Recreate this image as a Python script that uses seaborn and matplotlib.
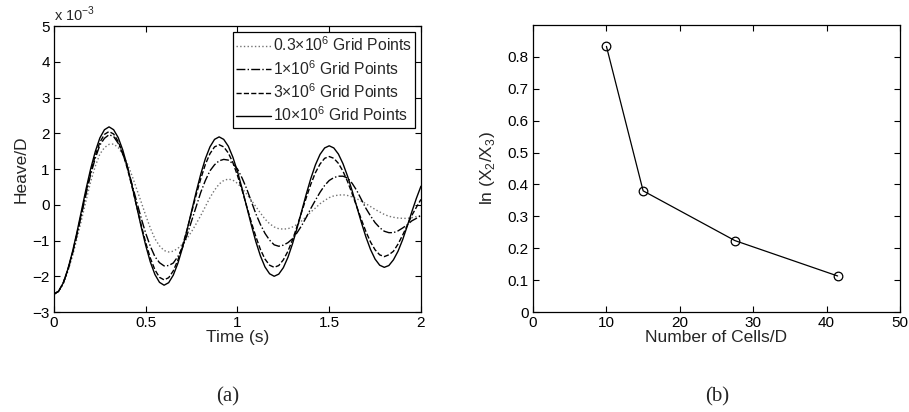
import matplotlib
matplotlib.use("Agg")
import matplotlib.pyplot as plt
import numpy as np
import seaborn as sns

# heave history, values in units of 1e-3 (every 0.025 s)
time_s = [round(0.025 * i, 3) for i in range(81)]
heave_03m = [-2.5, -2.42, -2.22, -1.87, -1.45, -0.95, -0.42, 0.12, 0.65, 1.08, 1.42, 1.60, 1.69,
             1.70, 1.6, 1.41, 1.15, 0.82, 0.45, 0.08, -0.3, -0.65, -0.95, -1.15, -1.28,
             -1.32, -1.3, -1.22, -1.1, -0.94, -0.75, -0.53, -0.3, -0.05, 0.2, 0.41, 0.58,
             0.68, 0.72, 0.69, 0.6, 0.46, 0.3, 0.13, -0.05, -0.23, -0.4, -0.53, -0.62,
             -0.67, -0.68, -0.67, -0.62, -0.55, -0.45, -0.33, -0.2, -0.09, 0.03, 0.12, 0.2,
             0.25, 0.27, 0.28, 0.26, 0.22, 0.17, 0.10, 0.03, -0.05, -0.13, -0.20, -0.27,
             -0.32, -0.35, -0.37, -0.38, -0.38, -0.36, -0.33, -0.3]
heave_1m = [-2.5, -2.42, -2.2, -1.84, -1.38, -0.85, -0.27, 0.31, 0.85, 1.30, 1.67, 1.86, 1.96,
            1.91, 1.72, 1.42, 1.05, 0.58, 0.1, -0.37, -0.8, -1.16, -1.45, -1.62, -1.71,
            -1.70, -1.63, -1.45, -1.2, -0.85, -0.45, -0.05, 0.35, 0.68, 0.95, 1.12, 1.23,
            1.27, 1.25, 1.15, 1.0, 0.75, 0.45, 0.10, -0.25, -0.55, -0.8, -0.99, -1.12,
            -1.16, -1.13, -1.06, -0.95, -0.78, -0.58, -0.35, -0.1, 0.13, 0.35, 0.54, 0.68,
            0.76, 0.8, 0.80, 0.75, 0.60, 0.4, 0.15, -0.1, -0.31, -0.5, -0.64, -0.74,
            -0.78, -0.78, -0.73, -0.65, -0.56, -0.45, -0.38, -0.3]
heave_3m = [-2.5, -2.42, -2.19, -1.83, -1.36, -0.81, -0.23, 0.36, 0.91, 1.38, 1.75, 1.97, 2.05,
            1.98, 1.77, 1.44, 1.01, 0.51, -0.03, -0.56, -1.06, -1.49, -1.82, -2.03, -2.1,
            -2.04, -1.85, -1.55, -1.15, -0.70, -0.21, 0.28, 0.73, 1.13, 1.43, 1.62, 1.68,
            1.62, 1.45, 1.18, 0.82, 0.41, -0.04, -0.48, -0.89, -1.25, -1.52, -1.69, -1.75,
            -1.70, -1.54, -1.30, -0.98, -0.60, -0.2, 0.20, 0.58, 0.90, 1.14, 1.30, 1.35,
            1.30, 1.16, 0.94, 0.65, 0.31, -0.05, -0.41, -0.75, -1.04, -1.26, -1.40, -1.45,
            -1.40, -1.3, -1.10, -0.85, -0.58, -0.3, -0.07, 0.15]
heave_10m = [-2.5, -2.42, -2.19, -1.81, -1.33, -0.77, -0.16, 0.45, 1.01, 1.49, 1.87, 2.10, 2.18,
             2.10, 1.88, 1.53, 1.07, 0.54, -0.035, -0.61, -1.14, -1.60, -1.95, -2.17, -2.25,
             -2.18, -1.97, -1.64, -1.21, -0.71, -0.175, 0.36, 0.86, 1.29, 1.62, 1.83, 1.9,
             1.83, 1.64, 1.33, 0.93, 0.455, -0.05, -0.555, -1.03, -1.43, -1.74, -1.93, -2.0,
             -1.94, -1.76, -1.47, -1.09, -0.65, -0.175, 0.30, 0.74, 1.12, 1.41, 1.59, 1.65,
             1.59, 1.42, 1.15, 0.80, 0.39, -0.05, -0.49, -0.9, -1.25, -1.52, -1.69, -1.75,
             -1.70, -1.54, -1.30, -0.98, -0.60, -0.2, 0.18, 0.52]
series_labels = [r"0.3$\times$10$^6$ Grid Points", r"1$\times$10$^6$ Grid Points",
                 r"3$\times$10$^6$ Grid Points", r"10$\times$10$^6$ Grid Points"]

# decay rate vs resolution
cells_per_d = [10, 15, 27.5, 41.5]
log_ratio = [0.833, 0.38, 0.224, 0.113]


def style_axes(ax):
    ax.tick_params(direction="in", top=True, right=True, length=4, width=0.8,
                   labelsize=11, pad=3, colors="black")
    for spine in ax.spines.values():
        spine.set_visible(True)
        spine.set_linewidth(0.9)
        spine.set_color("black")


def main() -> None:
    sns.set_style("ticks")
    plt.rcParams["font.family"] = ["Liberation Sans", "DejaVu Sans"]
    plt.rcParams["mathtext.fontset"] = "custom"
    plt.rcParams["mathtext.rm"] = "Liberation Sans"

    fig = plt.figure(figsize=(9.09, 4.12), dpi=100)
    ax_a = fig.add_axes([0.0594, 0.2427, 0.4037, 0.694])
    ax_b = fig.add_axes([0.5864, 0.2427, 0.4037, 0.6966])

    curves = [heave_03m, heave_1m, heave_3m, heave_10m]
    styles = [(":", "0.45"), ("-.", "black"), ("--", "black"), ("-", "black")]
    for values, label, (ls, col) in zip(curves, series_labels, styles):
        sns.lineplot(x=time_s, y=values, ax=ax_a, color=col, linestyle=ls,
                     linewidth=1.0, label=label)
    ax_a.set_xlim(0, 2)
    ax_a.set_ylim(-3, 5)
    ax_a.set_xticks([0, 0.5, 1, 1.5, 2])
    ax_a.set_xticklabels(["0", "0.5", "1", "1.5", "2"])
    ax_a.set_yticks(range(-3, 6))
    ax_a.set_yticklabels([str(v).replace("-", "\u2212") for v in range(-3, 6)])
    ax_a.set_xlabel("Time (s)", fontsize=12.5, labelpad=0)
    ax_a.set_ylabel("Heave/D", fontsize=12.5, labelpad=3)
    ax_a.text(0.0, 1.006, r"x 10$^{-3}$", transform=ax_a.transAxes,
              fontsize=10.5, ha="left", va="bottom")
    leg = ax_a.legend(loc="upper right", fontsize=11.3, frameon=True, fancybox=False,
                      borderaxespad=0.35, handlelength=2.2, handletextpad=0.1,
                      labelspacing=0.3, borderpad=0.25)
    leg.get_frame().set_edgecolor("black")
    leg.get_frame().set_linewidth(0.9)
    leg.get_frame().set_alpha(1)
    style_axes(ax_a)

    sns.lineplot(x=cells_per_d, y=log_ratio, ax=ax_b, color="black", linewidth=0.9,
                 marker="o", markersize=6.2, markerfacecolor="none",
                 markeredgecolor="black", markeredgewidth=0.9)
    ax_b.set_xlim(0, 50)
    ax_b.set_ylim(0, 0.9)
    ax_b.set_xticks(range(0, 51, 10))
    ax_b.set_yticks(np.round(np.arange(0, 0.81, 0.1), 1))
    ax_b.set_yticklabels(["0", "0.1", "0.2", "0.3", "0.4", "0.5", "0.6", "0.7", "0.8"])
    ax_b.set_xlabel("Number of Cells/D", fontsize=12.5, labelpad=0)
    ax_b.set_ylabel(r"ln (X$_2$/X$_3$)", fontsize=12.5, labelpad=8)
    style_axes(ax_b)

    fig.text(0.251, 0.036, "(a)", family="Liberation Serif", fontsize=15,
             ha="center", va="center")
    fig.text(0.789, 0.036, "(b)", family="Liberation Serif", fontsize=15,
             ha="center", va="center")

    fig.savefig("out.png", dpi=100)
    plt.close(fig)


if __name__ == "__main__":
    main()
